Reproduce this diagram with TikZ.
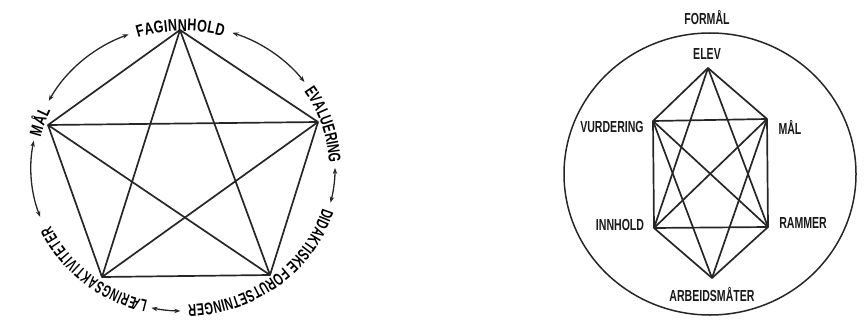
\documentclass[tikz,border=0pt]{standalone}
\usepackage{fontspec}
\setmainfont{Liberation Sans}
\newfontfamily\famA{Liberation Sans}[FakeStretch=0.74]
\newfontfamily\famB{Liberation Sans}[FakeStretch=0.69]
\newfontfamily\famC{Liberation Sans}[FakeStretch=0.65]
\newfontfamily\famD{Liberation Sans}[FakeStretch=0.60]
\newfontfamily\labfamr{Liberation Sans}[FakeStretch=0.66]
\usetikzlibrary{decorations.text,arrows.meta}
\newcommand\arcA{\famA\bfseries\fontsize{17}{17}\selectfont}
\newcommand\arcB{\famB\bfseries\fontsize{17}{17}\selectfont}
\newcommand\arcC{\famC\bfseries\fontsize{17}{17}\selectfont}
\newcommand\arcD{\famD\bfseries\fontsize{17}{17}\selectfont}
\begin{document}
\begin{tikzpicture}[x=1pt,y=1pt,
  edge/.style={draw=black!85, line width=1.7pt, line join=round},
  cyc/.style={draw=black!85, line width=1.3pt,
    {Stealth[length=6pt,width=4.5pt]}-{Stealth[length=6pt,width=4.5pt]}},
  arclab/.style={decorate, decoration={text along path, text align=fit to path}},
  lab/.style={font=\labfamr\bfseries\fontsize{16}{16}\selectfont, text=black!90, inner sep=0pt},
  ring/.style={draw=black!85, line width=1.5pt}]
\useasboundingbox (0,0) rectangle (864,322);

% ---------- left diagram ----------
\coordinate (C) at (183,154);
\coordinate (F) at (180,292);
\coordinate (E) at (318,200);
\coordinate (D) at (270,47);
\coordinate (L) at (102,45);
\coordinate (M) at (48,197);

\draw[edge] (F) -- (E) -- (D) -- (L) -- (M) -- cycle;
\draw[edge] (F) -- (D);
\draw[edge] (F) -- (L);
\draw[edge] (M) -- (E);
\draw[edge] (M) -- (D);
\draw[edge] (E) -- (L);

\path[arclab, decoration={text={|\arcA|FAGINNHOLD}}]
  (C) ++(108:146pt and 137pt) arc[start angle=108, end angle=74, x radius=146pt, y radius=137pt];
\path[arclab, decoration={text={|\arcB|EVALUERING}}]
  (C) ++(34:146pt and 137pt) arc[start angle=34, end angle=3, x radius=146pt, y radius=137pt];
\path[arclab, decoration={text={|\arcC|DIDAKTISKE FORUTSETNINGER}}]
  (C) ++(-17:146pt and 137pt) arc[start angle=-17, end angle=-88, x radius=146pt, y radius=137pt];
\path[arclab, decoration={text={|\arcD|LÆRINGSAKTIVITETER}}]
  (C) ++(-104:146pt and 137pt) arc[start angle=-104, end angle=-155, x radius=146pt, y radius=137pt];
\path[arclab, decoration={text={|\arcA|MÅL}}]
  (C) ++(167:146pt and 137pt) arc[start angle=167, end angle=155, x radius=146pt, y radius=137pt];

\draw[cyc] (C) ++(152:152pt and 143pt) arc[start angle=152, end angle=111, x radius=152pt, y radius=143pt];
\draw[cyc] (C) ++(71:152pt and 143pt) arc[start angle=71, end angle=37, x radius=152pt, y radius=143pt];
\draw[cyc] (C) ++(0:152pt and 143pt) arc[start angle=0, end angle=-14, x radius=152pt, y radius=143pt];
\draw[cyc] (C) ++(-91:152pt and 143pt) arc[start angle=-91, end angle=-102, x radius=152pt, y radius=143pt];
\draw[cyc] (C) ++(200:152pt and 143pt) arc[start angle=200, end angle=169, x radius=152pt, y radius=143pt];

% ---------- right diagram ----------
\coordinate (C2) at (710,148);
\draw[ring] (C2) ellipse[x radius=146pt, y radius=141pt];

\coordinate (EL) at (708,254);
\coordinate (VU) at (653,201);
\coordinate (MA) at (767,203);
\coordinate (IN) at (654,94);
\coordinate (RA) at (768,95);
\coordinate (AR) at (712,44);

\draw[edge] (EL) -- (MA) -- (RA) -- (AR) -- (IN) -- (VU) -- cycle;
\draw[edge] (VU) -- (MA);
\draw[edge] (IN) -- (RA);
\draw[edge] (EL) -- (IN);
\draw[edge] (EL) -- (RA);
\draw[edge] (VU) -- (RA);
\draw[edge] (VU) -- (AR);
\draw[edge] (MA) -- (IN);
\draw[edge] (MA) -- (AR);

\node[lab] (lFO) at (707,304) {FORMÅL};
\node[lab] (lEL) at (707,268) {ELEV};
\node[lab] (lVU) at (612,195) {VURDERING};
\node[lab] (lMA) at (790,195) {MÅL};
\node[lab] (lIN) at (620,97) {INNHOLD};
\node[lab] (lRA) at (803,99) {RAMMER};
\node[lab] (lAR) at (712,27) {ARBEIDSMÅTER};
\end{tikzpicture}
\end{document}
